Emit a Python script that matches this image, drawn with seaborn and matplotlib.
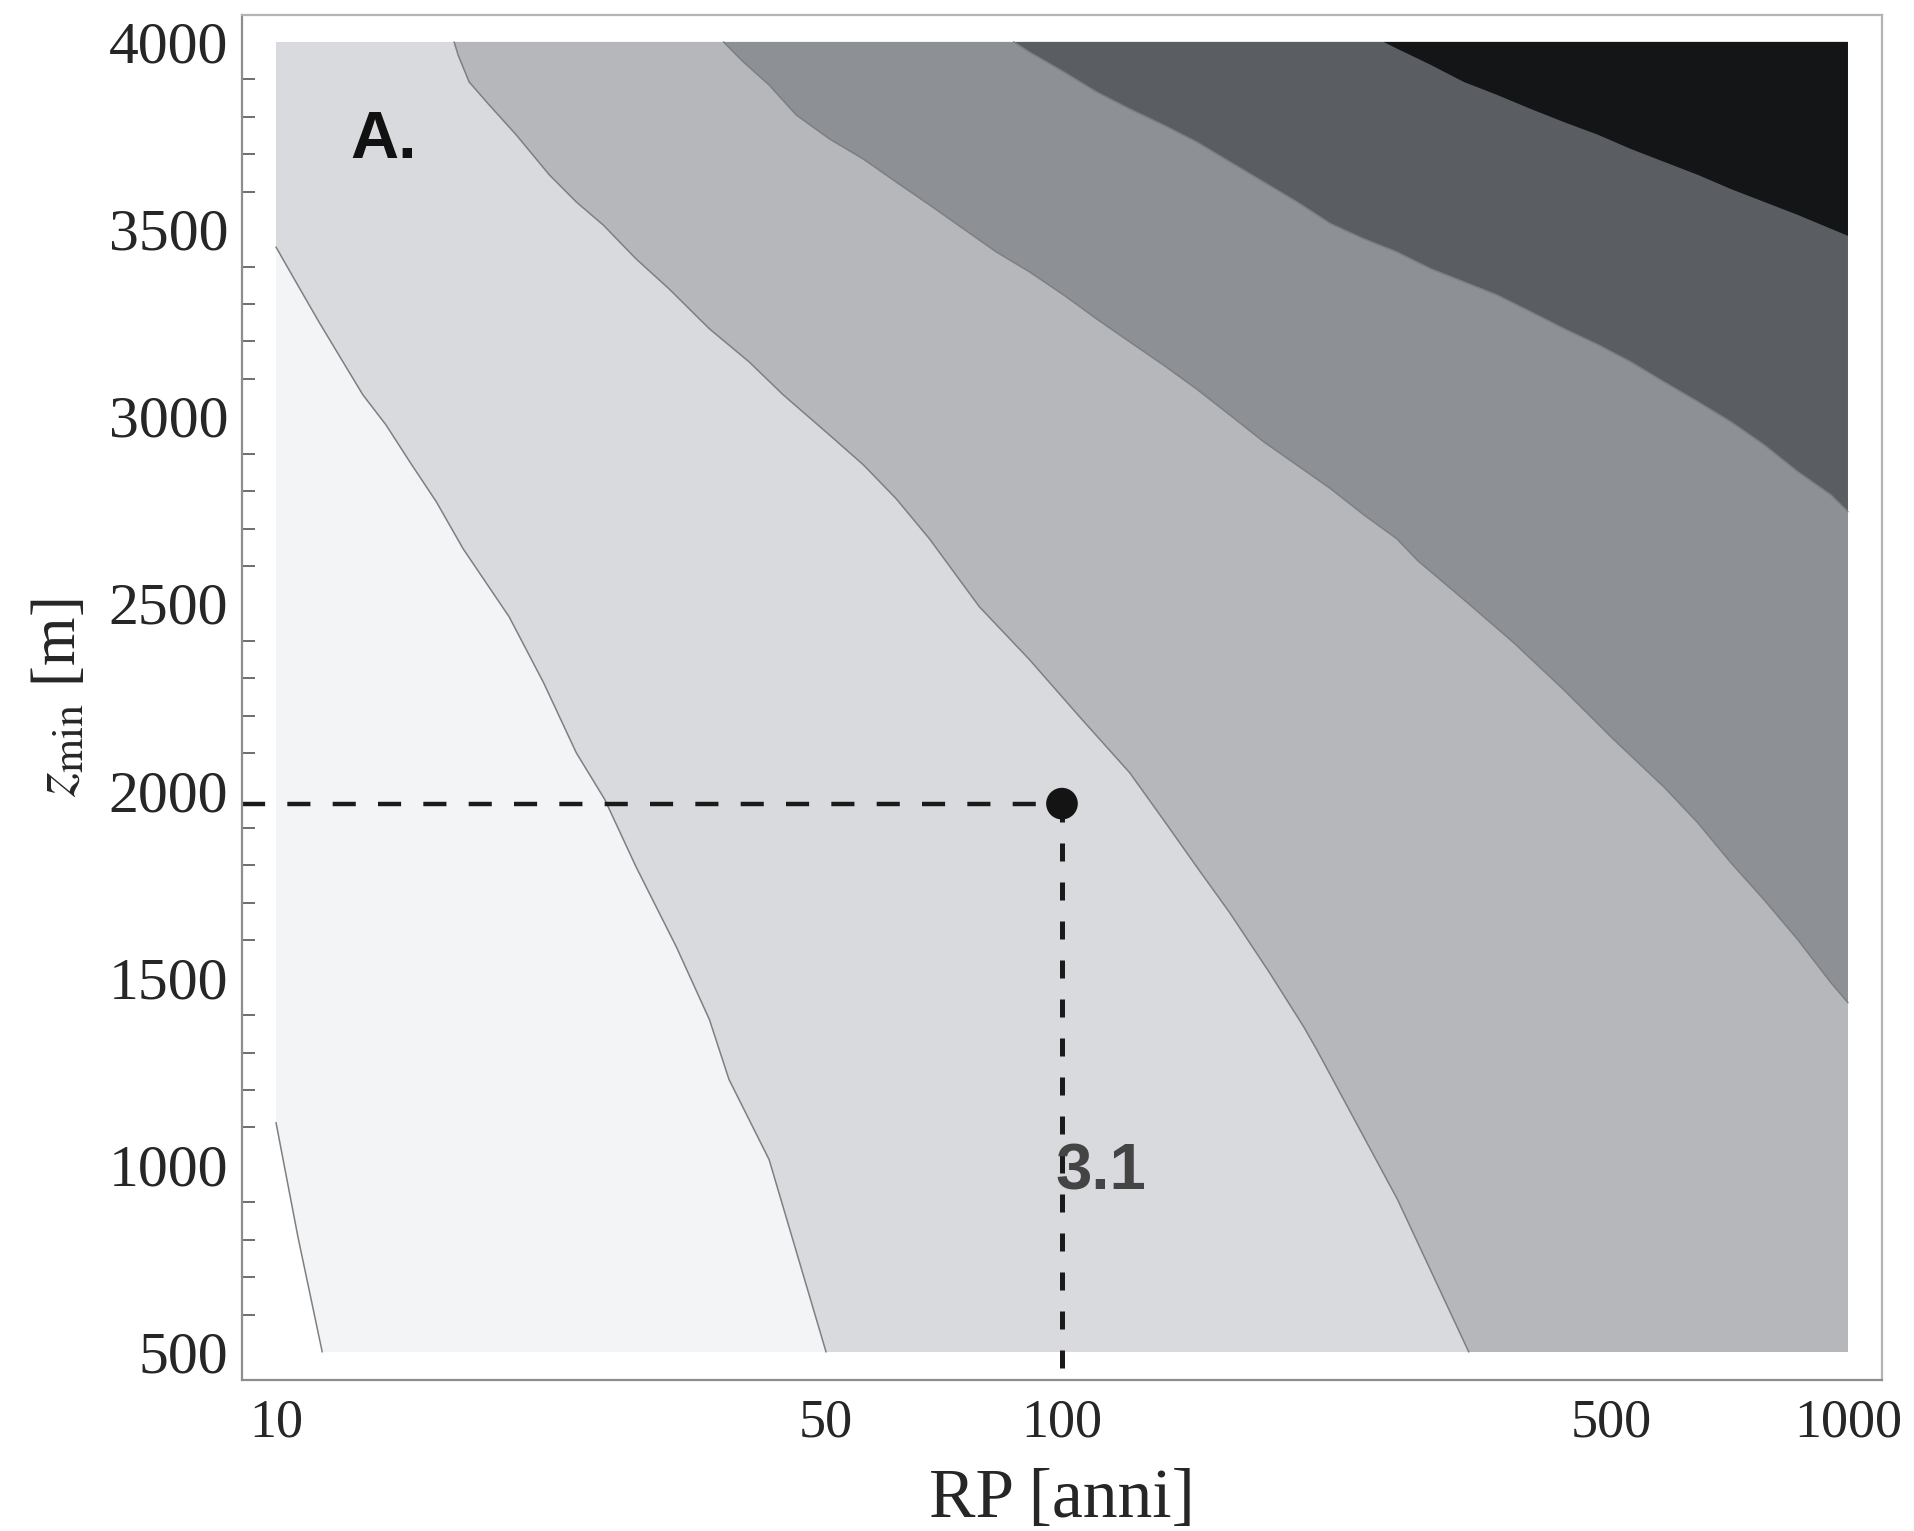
import numpy as np
import pandas as pd
import matplotlib.pyplot as plt
import seaborn as sns

# contour lines  (RP [anni], z_min [m])
c1_rp = [10.0, 10.66, 11.45]
c1_z = [1113, 809, 500]

c2_rp = [10.0, 10.6, 11.34, 12.17, 12.9, 13.8, 14.8, 16.0, 17.3, 19.8, 21.9, 24.1,
         26.2, 28.7, 32.3, 35.6, 37.7, 42.4, 50.1]
c2_z = [3452, 3359, 3252, 3145, 3057, 2977, 2878, 2771, 2646, 2464, 2288, 2101,
        1976, 1797, 1583, 1388, 1228, 1014, 500]

c3_rp = [16.85, 17.05, 17.61, 18.67, 20.21, 22.27, 24.09, 26.08, 28.73, 31.64, 35.58,
         40.0, 44.2, 50.6, 55.9, 61.5, 67.8, 78.5, 90.9, 105.3, 121.9, 134.6, 148.3,
         163.4, 183.6, 203.0, 210.9, 267.3, 329.3]
c3_z = [4000, 3965, 3893, 3832, 3752, 3645, 3573, 3511, 3420, 3340, 3234,
        3145, 3057, 2950, 2870, 2780, 2673, 2491, 2350, 2197, 2048, 1922, 1797,
        1674, 1514, 1369, 1308, 907, 500]

c4_rp = [37.1, 39.3, 42.4, 45.9, 50.6, 55.9, 61.5, 67.8, 74.9, 82.5, 90.9, 100.5,
         110.7, 121.9, 134.6, 148.3, 163.4, 180.5, 198.9, 219.8, 242.0, 266.6, 283.6,
         324.6, 375.6, 435.0, 503.6, 583.0, 644.0, 709.7, 781.5, 863.0, 951.0, 1000.0]
c4_z = [4000, 3947, 3885, 3805, 3741, 3687, 3626, 3565, 3501, 3439, 3386, 3324,
        3260, 3199, 3137, 3073, 3004, 2932, 2870, 2806, 2737, 2673, 2614,
        2510, 2395, 2269, 2136, 2010, 1914, 1807, 1709, 1602, 1487, 1433]

c5_rp = [86.8, 90.9, 100.5, 110.7, 121.9, 134.6, 148.3, 163.4, 180.5, 198.9, 219.8,
         242.0, 266.6, 294.4, 324.6, 357.5, 394.8, 435.0, 480.8, 529.4, 583.0, 644.0,
         709.7, 781.5, 863.0, 951.0, 1000.0]
c5_z = [4000, 3973, 3920, 3866, 3821, 3778, 3733, 3680, 3626, 3573, 3514,
        3474, 3439, 3394, 3359, 3324, 3279, 3234, 3191, 3145, 3092, 3039,
        2985, 2924, 2852, 2790, 2745]

c6_rp = [256.6, 267.5, 294.4, 324.6, 358.3, 394.8, 435.0, 480.8, 529.4, 583.0, 644.0,
         709.7, 781.5, 863.0, 951.0, 1000.0]
c6_z = [4000, 3981, 3939, 3893, 3858, 3821, 3786, 3752, 3714, 3680, 3645,
        3607, 3573, 3538, 3501, 3482]

pt_rp = 100
pt_z = 1965
pt_label = "3.1"

rp_min, rp_max = 10, 1000
z_min, z_max = 500, 4000
xticks = [10, 50, 100, 500, 1000]
yticks = [500, 1000, 1500, 2000, 2500, 3000, 3500, 4000]

lines = [(c1_rp, c1_z), (c2_rp, c2_z), (c3_rp, c3_z),
         (c4_rp, c4_z), (c5_rp, c5_z), (c6_rp, c6_z)]
shades = ["#f3f4f6", "#d9dadd", "#b6b7ba", "#8d9094", "#5a5e62", "#141517"]

sns.set_style("white")
plt.rcParams["font.family"] = ["Liberation Serif", "DejaVu Serif"]
plt.rcParams["mathtext.fontset"] = "stix"

fig = plt.figure(figsize=(19.14, 15.31), dpi=100)
ax = fig.add_axes([0.1264, 0.0986, 0.8569, 0.8916])
ax.set_xscale("log")

# each band = region to the upper right of its contour line
for (rp, z), col in zip(lines, shades):
    px = list(rp)
    py = list(z)
    if z[-1] <= z_min:
        px.append(rp_max); py.append(z_min)
    px.append(rp_max); py.append(z_max)
    if rp[0] <= rp_min:
        px.append(rp_min); py.append(z_max)
    ax.fill(px, py, color=col, lw=0, zorder=1)

for rp, z in lines[:-1]:
    df = pd.DataFrame({"rp": rp, "z": z})
    sns.lineplot(data=df, x="rp", y="z", sort=False, estimator=None,
                 color="#7d7f82", lw=1.1, ax=ax, zorder=2)

ax.set_xlim(9.05, 1105)
ax.set_ylim(425, 4072)

# reference point and guide lines
ax.plot([ax.get_xlim()[0], pt_rp], [pt_z, pt_z], color="#1a1a1a", lw=3.2,
        dashes=(5.2, 5.0), zorder=3, clip_on=False)
ax.plot([pt_rp, pt_rp], [pt_z, ax.get_ylim()[0] - 15], color="#1a1a1a", lw=3.6,
        dashes=(3.6, 4.2), zorder=3, clip_on=False)
sns.scatterplot(x=[pt_rp], y=[pt_z], s=520, color="#141414", edgecolor="none",
                ax=ax, zorder=4)
ax.text(98, 934, pt_label, family="Liberation Sans", weight="bold", fontsize=47,
        color="#444444", ha="left", va="baseline", zorder=5)
ax.text(12.45, 3690, "A.", family="Liberation Sans", weight="bold", fontsize=48,
        color="#111111", ha="left", va="baseline", zorder=5)

ax.set_xticks(xticks)
ax.set_xticklabels([str(t) for t in xticks])
ax.xaxis.set_minor_locator(plt.NullLocator())
ax.set_yticks(yticks)
ax.set_yticks(np.arange(500, 4001, 100), minor=True)

ax.tick_params(axis="both", which="both", direction="in", color="#6e6e6e",
               top=False, right=False)
ax.tick_params(axis="x", which="major", length=19, width=1.4, labelsize=39, pad=13)
ax.tick_params(axis="y", which="major", length=17, width=1.6, labelsize=43, pad=10)
ax.tick_params(axis="y", which="minor", length=9.5, width=1.4, left=True)

for side, sp in ax.spines.items():
    sp.set_color("#8e8e8e" if side in ("left", "bottom") else "#b4b4b4")
    sp.set_linewidth(1.6)
    sp.set_zorder(6)

ax.set_xlabel("RP [anni]", fontsize=50, labelpad=14)
ax.set_ylabel(r"$z_{\rm min}$ [m]", fontsize=45, labelpad=14)

fig.savefig("out.png", dpi=100, facecolor="white")
